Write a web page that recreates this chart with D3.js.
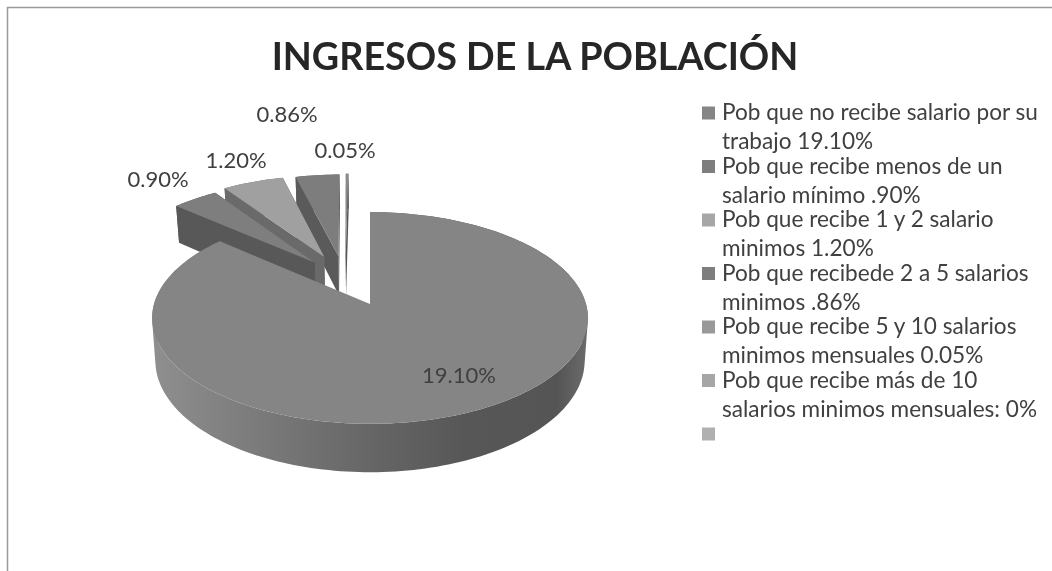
<!DOCTYPE html>
<html><head><meta charset="utf-8">
<script src="https://cdnjs.cloudflare.com/ajax/libs/d3/7.8.5/d3.min.js"></script>
<style>html,body{margin:0;background:#fff}svg{display:block;filter:blur(.45px)}text{font-family:Lato,"Noto Sans",sans-serif}</style>
</head><body><svg width="1052" height="571"></svg>
<script>
const title = "INGRESOS DE LA POBLACIÓN";
const values = [19.10, 0.90, 1.20, 0.86, 0.05];
const dataLabels = ["19.10%", "0.90%", "1.20%", "0.86%", "0.05%"];
const legendLines = [
  ["Pob que no recibe salario por su", "trabajo 19.10%"],
  ["Pob que recibe menos de un", "salario mínimo .90%"],
  ["Pob que recibe 1 y 2 salario", "minimos 1.20%"],
  ["Pob que recibede 2 a 5 salarios", "minimos .86%"],
  ["Pob que recibe 5 y 10 salarios", "minimos mensuales 0.05%"],
  ["Pob que recibe más de 10", "salarios minimos mensuales: 0%"],
  [""]
];

// appearance and layout
const topColors = ["#858585", "#7e7e7e", "#a0a0a0", "#7d7d7d", "#8a8a8a"];
const wallColors = [null, "#585858", "#6a6a6a", "#5a5a5a", "#555555"];
const swatchColors = ["#858585", "#7e7e7e", "#a6a6a6", "#7e7e7e", "#999999", "#a6a6a6", "#b0b0b0"];
const explode = [[0,0],[-.27,-.42],[-.225,-.48],[-.155,-.49],[-.12,-.5]];
const labelPos = [[459,383],[158,187],[236,168],[287,122],[345,158]];
const k = .132, D = 42;
const px = d3.scaleLinear().domain([-1,1]).range([370-216,370+216]);
const py = d3.scaleLinear().domain([-1,1]).range([304-104,304+104]);
const proj = (u,v,low=0) => {
  const s = 1/(1-k*v);
  const sx = low ? .985 : 1;
  return [px(0)+(px(u*s)-px(0))*sx, py(v*s)+low*D*s];
};

const svg = d3.select("svg");
svg.append("path").attr("d","M7.5 571V7.5H1052").attr("fill","none").attr("stroke","#9a9a9a").attr("stroke-width",1.5);

const grad = svg.append("defs").append("linearGradient").attr("id","wall")
  .attr("gradientUnits","userSpaceOnUse").attr("x1",px(-1.01)).attr("x2",px(1.01)).attr("y1",0).attr("y2",0);
[[0,"#8f8f8f"],[.25,"#7a7a7a"],[.5,"#666666"],[.72,"#575757"],[.93,"#555555"],[1,"#6c6c6c"]]
  .forEach(([o,c])=>grad.append("stop").attr("offset",o).attr("stop-color",c));

const arcs = d3.pie().sort(null).value(d=>d).startAngle(0).endAngle(2*Math.PI)(values);
const line = d3.line();

function arcPts(d,i,low){
  const [du,dv]=explode[i], n=Math.max(2,Math.ceil((d.endAngle-d.startAngle)*40));
  return d3.range(n+1).map(j=>{
    const a=d.startAngle+(d.endAngle-d.startAngle)*j/n;
    return proj(Math.sin(a)+du,-Math.cos(a)+dv,low);
  });
}
// every quad wound the same way, so one path fills them all without seams
const wound = q => d3.polygonArea(q) < 0 ? q.slice().reverse() : q;
const order = [4,3,2,1,0];
order.forEach(i=>{
  const d=arcs[i],[du,dv]=explode[i];
  const top=arcPts(d,i,0), bot=arcPts(d,i,1);
  const fillW = i===0 ? "url(#wall)" : wallColors[i];
  const quads = d3.range(top.length-1).map(j=>wound([top[j],top[j+1],bot[j+1],bot[j]]));
  svg.append("path").attr("d",quads.map(q=>line(q)+"Z").join("")).attr("fill",fillW);
  if(i>0){
    const c0=proj(du,dv,0), c1=proj(du,dv,1);
    [top[0],top[top.length-1]].forEach((p,j)=>{
      const q = j===0?bot[0]:bot[bot.length-1];
      svg.append("path").attr("d",line([c0,p,q,c1])+"Z").attr("fill",fillW);
    });
  }
  const c=proj(du,dv,0);
  svg.append("path").attr("d",line([c].concat(top))+"Z").attr("fill",topColors[i]);
});

svg.selectAll("text.lab").data(dataLabels).join("text").attr("class","lab")
  .attr("x",(d,i)=>labelPos[i][0]).attr("y",(d,i)=>labelPos[i][1])
  .attr("text-anchor","middle").attr("font-size",22).attr("fill","#404040").text(d=>d);

svg.append("text").attr("x",535).attr("y",70).attr("text-anchor","middle")
  .attr("font-size",37.7).attr("font-weight",700).attr("fill","#262626").text(title);

const itemY = d3.scaleLinear().domain([0,6]).range([113,434]);
const leg = svg.selectAll("g.leg").data(legendLines).join("g").attr("class","leg")
  .attr("transform",(d,i)=>`translate(702,${itemY(i)})`);
leg.append("rect").attr("y",-6.5).attr("width",13).attr("height",13).attr("fill",(d,i)=>swatchColors[i]);
leg.selectAll("text").data(d=>d).join("text").attr("x",20).attr("y",(d,j)=>7+j*29.3)
  .attr("font-size",22.6).attr("fill","#404040").text(d=>d);
</script></body></html>
